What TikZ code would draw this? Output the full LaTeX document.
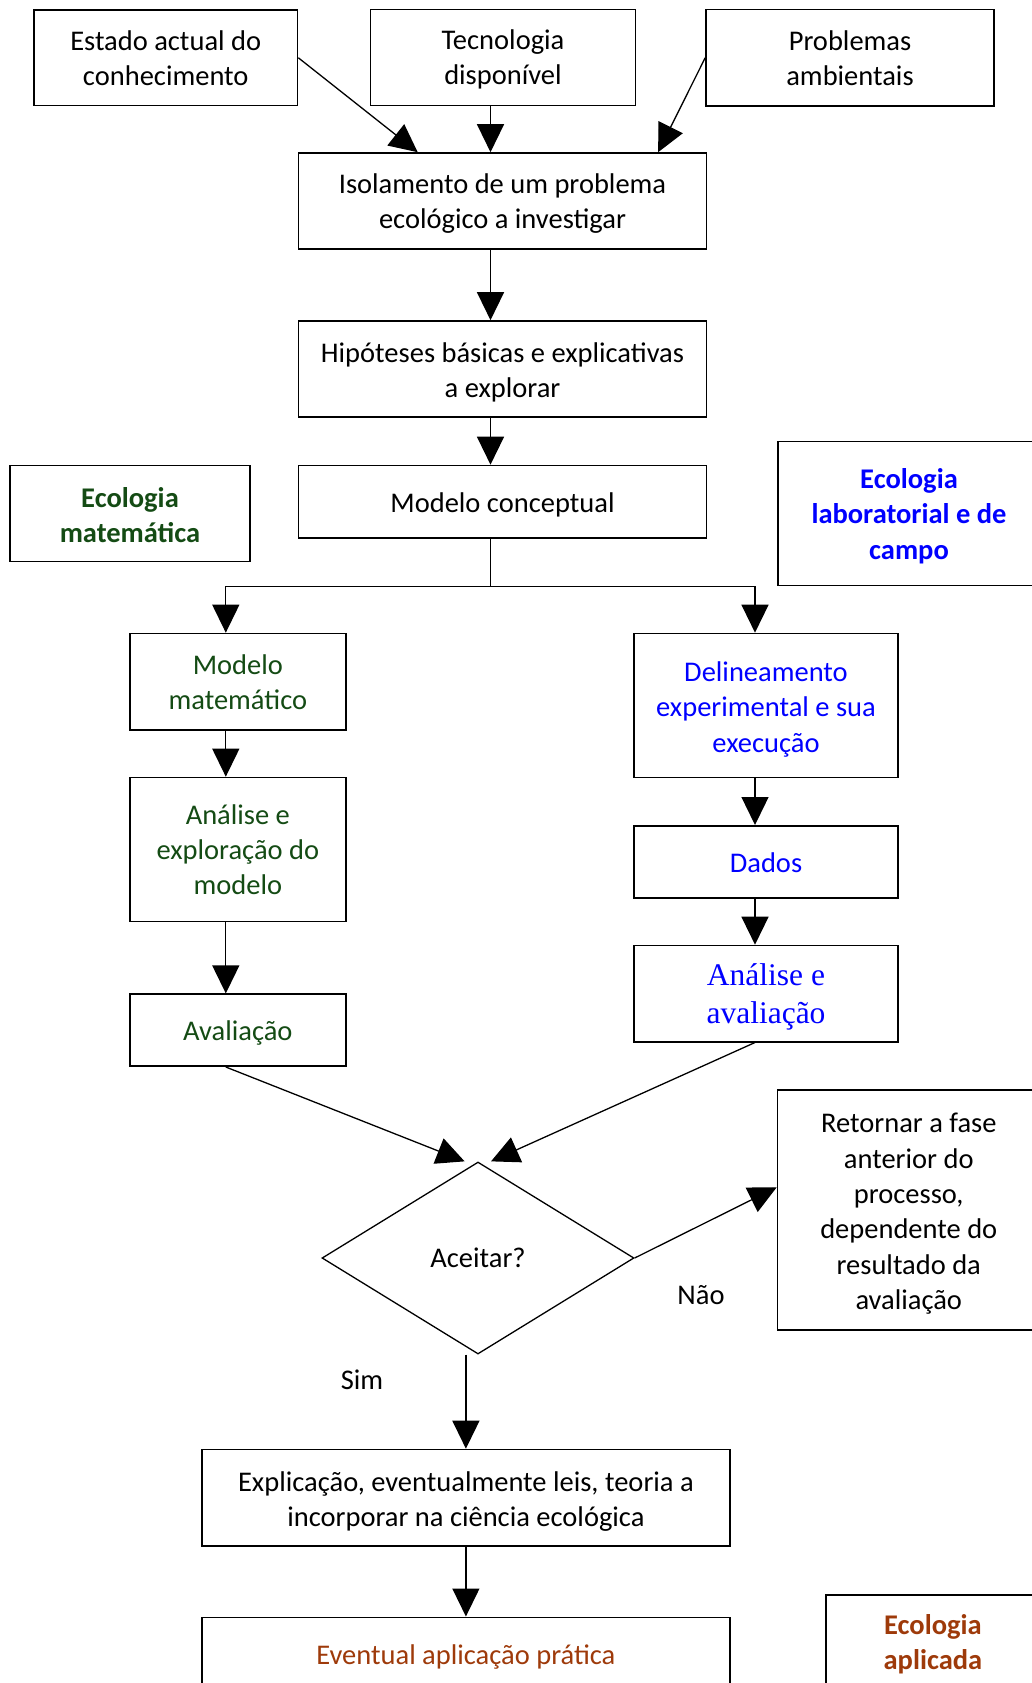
\documentclass[tikz,border=0pt]{standalone}
\usepackage{fontspec}
\setmainfont{Carlito}
\newfontfamily\serifnote{Liberation Serif}
\usetikzlibrary{arrows.meta,shapes.geometric,calc}
\definecolor{ecogreen}{RGB}{20,75,20}
\definecolor{ecobrown}{RGB}{158,58,10}
\definecolor{ecoblue}{RGB}{0,0,255}
% invisible strut that sets the height of a box's first text line
\newcommand{\lineup}[1][25pt]{\rule{0pt}{#1}}

\begin{document}
\begin{tikzpicture}[x=1pt,y=-1pt,
  box/.style={draw,line width=1.6pt,inner sep=0pt,align=center,
    font=\fontsize{28.5}{35.4}\selectfont},
  greenbox/.style={box,text=ecogreen},
  bluebox/.style={box,text=ecoblue},
  brownbox/.style={box,text=ecobrown},
  tag/.style={font=\fontsize{28.5}{35.4}\selectfont,inner sep=0pt},
  conn/.style={line width=1.3pt,-{Triangle[length=28pt,width=27pt]}},
  plain/.style={line width=1.3pt}]

\useasboundingbox (0,0) rectangle (1032,1683);
\clip (0,0) rectangle (1032,1683);

% vertical guide lines for the connectors
\coordinate (spine) at (490.5,0);
\coordinate (lspine) at (225.8,0);
\coordinate (rspine) at (755,0);

% inputs
\node[box,minimum width=263.5pt,minimum height=95.5pt] (estado) at (165.75,57.75) {\lineup[21pt]Estado actual do\\conhecimento};
\node[box,minimum width=264.7pt,minimum height=96pt] (tecno) at (503,57.5) {\lineup[23pt]Tecnologia\\disponível};
\node[box,minimum width=288pt,minimum height=96.5pt] (probl) at (850,57.75) {\lineup[21pt]Problemas\\ambientais};

% main trunk
\node[box,minimum width=408pt,minimum height=96pt] (isol) at (502.5,201) {\lineup Isolamento de um problema\\ecológico a investigar};
\node[box,minimum width=408pt,minimum height=96pt] (hipo) at (502.5,369) {\lineup[26pt]Hipóteses básicas e explicativas\\a explorar};
\node[box,minimum width=408pt,minimum height=72.5pt] (conc) at (502.5,501.75) {\lineup[26pt]Modelo conceptual};

% side labels
\node[greenbox,minimum width=240pt,minimum height=96pt] (ecomat) at (130,513.5) {\lineup[23pt]\bfseries Ecologia\\\bfseries matemática};
\node[bluebox,minimum width=262pt,minimum height=144pt] (ecolab) at (909,513.5) {\lineup\bfseries Ecologia\\\bfseries laboratorial e de\\\bfseries campo};

% mathematical branch
\node[greenbox,minimum width=215.7pt,minimum height=96.3pt] (modmat) at (237.85,681.65) {\lineup[21pt]Modelo\\matemático};
\node[greenbox,minimum width=215.7pt,minimum height=144pt] (anexp) at (237.85,849.5) {\lineup[20pt]Análise e\\exploração do\\modelo};
\node[greenbox,minimum width=215.7pt,minimum height=72pt] (aval) at (237.85,1030.2) {\lineup Avaliação};

% experimental branch
\node[bluebox,minimum width=264pt,minimum height=144pt] (deli) at (766,705.5) {\lineup[27pt]Delineamento\\experimental e sua\\execução};
\node[bluebox,minimum width=264pt,minimum height=72pt] (dados) at (766,861.8) {\lineup[22pt]Dados};
\node[box,text=ecoblue,minimum width=264pt,minimum height=96.2pt,
  font=\serifnote\fontsize{31.5}{37.6}\selectfont] (anaval) at (766,993.6) {\lineup[28.5pt]Análise e\\avaliação};

% decision
\node[diamond,draw,line width=1.3pt,minimum width=312pt,minimum height=192pt,inner sep=0pt,
  font=\fontsize{28.5}{35.4}\selectfont] (acc) at (478,1258) {Aceitar?};
\node[box,minimum width=262.5pt,minimum height=240pt] (ret) at (908.75,1210) {\lineup[27pt]Retornar a fase\\anterior do\\processo,\\dependente do\\resultado da\\avaliação};
\node[tag] (nao) at (701,1295) {Não};
\node[tag] (sim) at (362,1380) {Sim};

% outcome
\node[box,minimum width=528.2pt,minimum height=96.7pt] (expl) at (465.9,1497.85) {\lineup[27pt]Explicação, eventualmente leis, teoria a\\incorporar na ciência ecológica};
\node[brownbox,minimum width=528.2pt,minimum height=77.4pt] (event) at (465.9,1656) {\lineup[22pt]Eventual aplicação prática};
\node[brownbox,minimum width=214.2pt,minimum height=96.3pt] (ecoapl) at (932.9,1643) {\lineup[23pt]\bfseries Ecologia\\\bfseries aplicada};

% connectors into the problem box
\draw[conn] (estado.east) -- ($(isol.north west)!0.293!(isol.north east)$);
\draw[conn] (tecno.south -| spine) -- (isol.north -| spine);
\draw[conn] (probl.west) -- ($(isol.north west)!0.880!(isol.north east)$);

% trunk
\draw[conn] (isol.south -| spine) -- (hipo.north -| spine);
\draw[conn] (hipo.south -| spine) -- (conc.north -| spine);
\coordinate (fork) at ($(conc.south -| spine)+(0,47.7)$);
\draw[plain] (conc.south -| spine) -- (fork);
\draw[conn] (fork) -| (modmat.north -| lspine);
\draw[conn] (fork) -| (deli.north -| rspine);

% branches
\draw[conn] (modmat.south -| lspine) -- (anexp.north -| lspine);
\draw[conn] (anexp.south -| lspine) -- (aval.north -| lspine);
\draw[conn] (deli.south -| rspine) -- (dados.north -| rspine);
\draw[conn] (dados.south -| rspine) -- (anaval.north -| rspine);

% into the decision
\draw[conn] (aval.south -| lspine) -- ($(acc.north)+(-13.4,0)$);
\draw[conn] (anaval.south -| rspine) -- ($(acc.north)+(13,0)$);
\draw[conn] (acc.east) -- ($(ret.north west)!0.406!(ret.south west)$);
\draw[conn] (expl.north |- acc.south) -- (expl.north);
\draw[conn] (expl.south) -- (event.north);

\end{tikzpicture}
\end{document}
